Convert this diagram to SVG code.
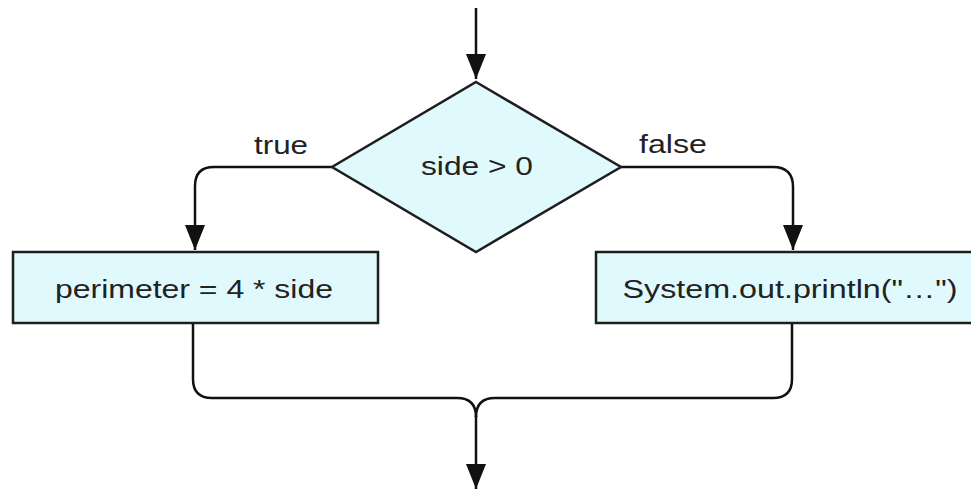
<svg xmlns="http://www.w3.org/2000/svg" width="971" height="492" viewBox="0 0 971 492">
  <style>
    .shape { fill: #dff9fd; stroke: #1e1e1e; stroke-width: 2.5; }
    .wire { fill: none; stroke: #111; stroke-width: 2.5; }
    .txt { font-family: "Liberation Sans", Arial, sans-serif; font-size: 26px; fill: #222; }
  </style>
  <defs>
    <marker id="arrow" viewBox="0 0 25 20" refX="25" refY="10" markerWidth="25" markerHeight="20" markerUnits="userSpaceOnUse" orient="auto">
      <path d="M0,0 L25,10 L0,20 Z" fill="#111"/>
    </marker>
  </defs>

  <g id="connectors">
    <!-- entry -->
    <path class="wire" d="M476,8 V79" marker-end="url(#arrow)"/>
    <!-- true branch -->
    <path class="wire" d="M332,167 H214 Q195,167 195,186 V250" marker-end="url(#arrow)"/>
    <!-- false branch -->
    <path class="wire" d="M620,167 H773 Q793,167 793,187 V250" marker-end="url(#arrow)"/>
    <!-- merge -->
    <path class="wire" d="M193,323 V379 Q193,398 212,398 H457 Q476,398 476,417"/>
    <path class="wire" d="M792,323 V379 Q792,398 773,398 H495 Q476,398 476,417"/>
    <path class="wire" d="M476,416 V489" marker-end="url(#arrow)"/>
  </g>

  <g id="decision">
    <polygon class="shape" points="476,82 621,167 476,252 332,167"/>
    <text class="txt" x="477" y="175" text-anchor="middle" textLength="112" lengthAdjust="spacingAndGlyphs">side &gt; 0</text>
  </g>

  <g id="label-true">
    <text class="txt" x="254" y="154" textLength="54" lengthAdjust="spacingAndGlyphs">true</text>
  </g>
  <g id="label-false">
    <text class="txt" x="639" y="153" textLength="68" lengthAdjust="spacingAndGlyphs">false</text>
  </g>

  <g id="perimeter">
    <rect class="shape" x="13" y="252" width="365" height="71"/>
    <text class="txt" x="194" y="298" text-anchor="middle" textLength="278" lengthAdjust="spacingAndGlyphs">perimeter = 4 * side</text>
  </g>

  <g id="println">
    <rect class="shape" x="596" y="252" width="400" height="71"/>
    <text class="txt" x="790" y="298" text-anchor="middle" textLength="335" lengthAdjust="spacingAndGlyphs">System.out.println("…")</text>
  </g>
</svg>
